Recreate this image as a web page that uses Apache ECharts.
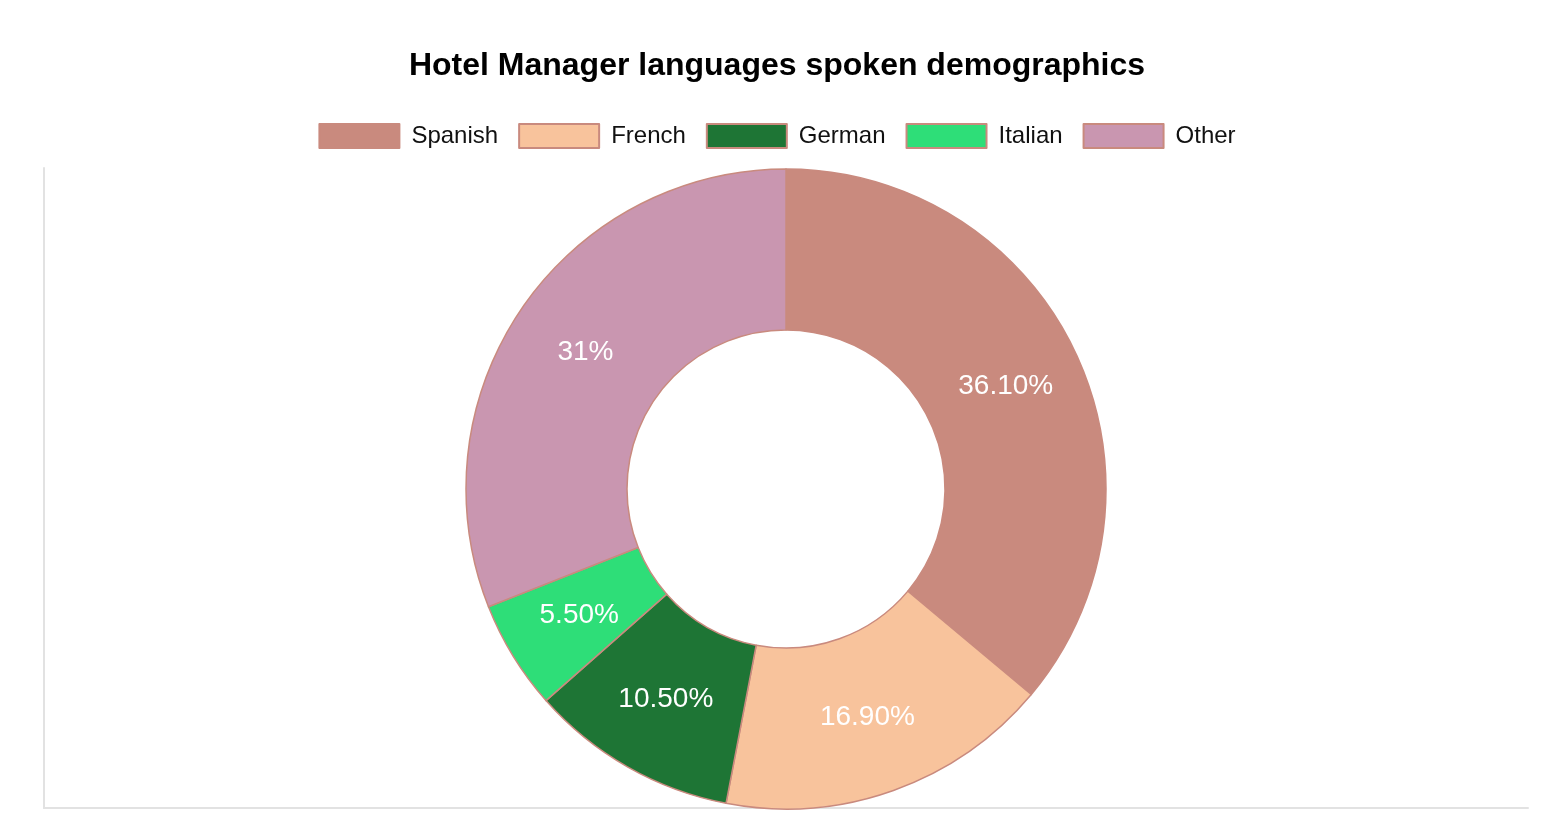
<!DOCTYPE html>
<html>
<head>
<meta charset="utf-8">
<title>Hotel Manager languages spoken demographics</title>
<script src="https://cdn.jsdelivr.net/npm/echarts@6/dist/echarts.min.js"></script>
<style>
  html, body { margin: 0; padding: 0; background: #fff; }
  #chart { width: 1554px; height: 828px; }
</style>
</head>
<body>
<div id="chart"></div>
<script>
var languages = ['Spanish', 'French', 'German', 'Italian', 'Other'];
var shares = [36.1, 16.9, 10.5, 5.5, 31];
var shareLabels = ['36.10%', '16.90%', '10.50%', '5.50%', '31%'];
var sliceColors = ['#c98a7e', '#f8c39c', '#1e7535', '#2ede78', '#c996b0'];

var fontFamily = "'Liberation Sans', Arial, Helvetica, sans-serif";

var pieData = languages.map(function (name, i) {
  return { name: name, value: shares[i], itemStyle: { color: sliceColors[i] } };
});

var chart = echarts.init(document.getElementById('chart'));

// the faint frame lines come from an empty cartesian grid
var frameAxis = {
  type: 'value',
  min: 0,
  max: 1,
  axisLine: { show: true, onZero: false, lineStyle: { color: '#e2e2e2', width: 2 } },
  axisTick: { show: false },
  axisLabel: { show: false },
  splitLine: { show: false }
};

chart.setOption({
  animation: false,
  textStyle: { fontFamily: fontFamily },
  title: {
    text: 'Hotel Manager languages spoken demographics',
    left: 'center',
    top: 45,
    textStyle: { fontSize: 32, fontWeight: 'bold', color: '#000', fontFamily: fontFamily }
  },
  legend: {
    top: 118,
    left: 'center',
    icon: 'rect',
    itemWidth: 80,
    itemHeight: 24,
    itemGap: 20,
    data: languages,
    textStyle: { fontSize: 24, color: '#111', padding: [0, 0, 0, 7], fontFamily: fontFamily }
  },
  grid: { left: 44, right: 26, top: 168, bottom: 20 },
  xAxis: frameAxis,
  yAxis: frameAxis,
  series: [{
    type: 'pie',
    center: [786, 489],
    radius: [159, 320],
    startAngle: 90,
    clockwise: true,
    itemStyle: { borderColor: '#c98a7e', borderWidth: 1.5 },
    label: {
      show: true,
      position: 'inside',
      color: '#fff',
      fontSize: 28,
      fontFamily: fontFamily,
      formatter: function (p) { return shareLabels[p.dataIndex]; }
    },
    labelLine: { show: false },
    emphasis: { disabled: true },
    data: pieData
  }]
});
</script>
</body>
</html>
